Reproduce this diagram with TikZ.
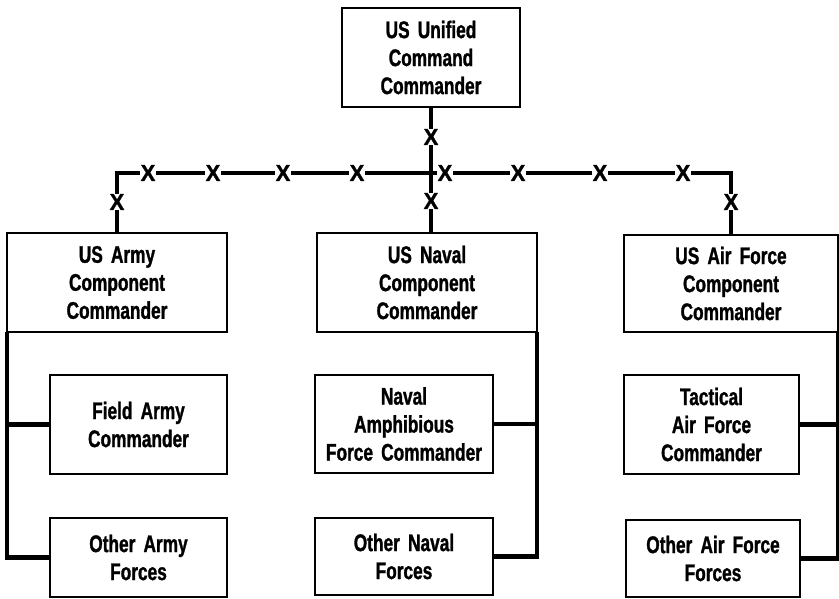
\documentclass[tikz,border=0pt]{standalone}
\usepackage{fontspec}
\setmainfont{Liberation Sans}[FakeStretch=0.72, WordSpace=1.7, BoldFeatures={FakeBold=1.2}]
\newfontfamily\xfont{Liberation Sans}[FakeStretch=0.95, BoldFeatures={FakeBold=1.2}]
\begin{document}
\begin{tikzpicture}[x=1pt,y=-1pt,
  box/.style={draw, line width=2.8pt, outer sep=0pt, align=center,
    font=\bfseries\fontsize{24}{28}\selectfont, inner sep=2pt},
  conn/.style={line width=4.2pt},
  xmark/.style={fill=white, inner sep=0.5pt, font=\xfont\bfseries\fontsize{23}{23}\selectfont}]
\useasboundingbox (0,0) rectangle (839,598);
% boxes
\node[box, minimum width=178pt, minimum height=99pt] (top) at (431,57.5) {US Unified\\Command\\Commander};
\node[box, minimum width=220pt, minimum height=99pt] (army) at (117,282.5) {US Army\\Component\\Commander};
\node[box, minimum width=220pt, minimum height=99pt] (navy) at (427,282.5) {US Naval\\Component\\Commander};
\node[box, minimum width=214pt, minimum height=97pt] (air) at (731,283.5) {US Air Force\\Component\\Commander};
\node[box, minimum width=177pt, minimum height=99pt] (fa) at (138.5,424.5) {Field Army\\Commander};
\node[box, minimum width=178pt, minimum height=98pt] (na) at (404,424) {Naval\\Amphibious\\Force Commander};
\node[box, minimum width=175pt, minimum height=99pt] (ta) at (711.5,424.5) {Tactical\\Air Force\\Commander};
\node[box, minimum width=177pt, minimum height=79pt] (oa) at (138.5,557.5) {Other Army\\Forces};
\node[box, minimum width=178pt, minimum height=77pt] (on) at (404,556.5) {Other Naval\\Forces};
\node[box, minimum width=174pt, minimum height=77pt] (oaf) at (713,558.5) {Other Air Force\\Forces};
% connectors
\coordinate (bus) at (431,173);
\draw[conn] (top.south) -- (top.south |- navy.north);
\draw[conn] (army.north) |- (bus) -| (air.north);
\draw[conn] (army.south west) |- (oa.west);
\draw[conn] (fa.west) -- (fa.west -| army.west);
\draw[conn] (navy.south east) |- (on.east);
\draw[conn] (na.east) -- (na.east -| navy.east);
\draw[conn] (air.south east) |- (oaf.east);
\draw[conn] (ta.east) -- (ta.east -| air.east);
% X marks
\node[xmark] (xt) at (431,137) {X};
\node[xmark] (xn) at (431,201) {X};
\node[xmark] (xa) at (117,202) {X};
\node[xmark] (xf) at (731,202) {X};
\node[xmark] (h1) at (148,173) {X};
\node[xmark] (h2) at (213,173) {X};
\node[xmark] (h3) at (283,173) {X};
\node[xmark] (h4) at (357,173) {X};
\node[xmark] (h5) at (445,173) {X};
\node[xmark] (h6) at (518,173) {X};
\node[xmark] (h7) at (600,173) {X};
\node[xmark] (h8) at (683,173) {X};
\end{tikzpicture}
\end{document}
